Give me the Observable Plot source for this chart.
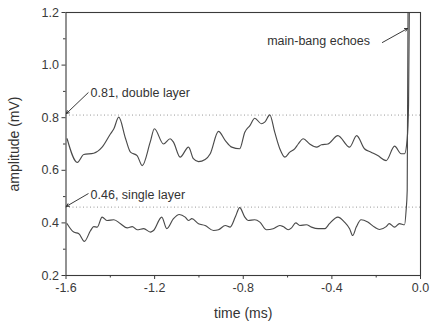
<!DOCTYPE html>
<html>
<head>
<meta charset="utf-8">
<script src="https://cdn.jsdelivr.net/npm/d3@7"></script>
<script src="https://cdn.jsdelivr.net/npm/@observablehq/plot@0.6"></script>
<style>
  html, body { margin: 0; padding: 0; background: #fff; }
  #chart svg { font-family: "Liberation Sans", Arial, sans-serif; }
</style>
</head>
<body>
<div id="chart"></div>
<script>
// Double-layer trace (time in ms, amplitude in mV)
const upperTime = [-1.595,-1.549,-1.520,-1.475,-1.437,-1.399,-1.384,-1.362,-1.331,-1.309,-1.279,-1.256,-1.220,-1.201,-1.160,-1.130,-1.115,-1.085,-1.047,-1.025,-1.002,-0.972,-0.949,-0.912,-0.881,-0.852,-0.816,-0.793,-0.770,-0.748,-0.718,-0.703,-0.680,-0.658,-0.635,-0.612,-0.590,-0.567,-0.552,-0.529,-0.500,-0.469,-0.447,-0.418,-0.373,-0.320,-0.288,-0.253,-0.223,-0.193,-0.155,-0.117,-0.087,-0.072,-0.060,-0.054,-0.050];
const upperAmp = [0.72,0.63,0.66,0.665,0.688,0.739,0.758,0.802,0.72,0.669,0.656,0.618,0.707,0.758,0.70,0.72,0.707,0.65,0.688,0.644,0.633,0.641,0.663,0.748,0.713,0.688,0.682,0.745,0.770,0.798,0.777,0.783,0.811,0.745,0.682,0.650,0.669,0.682,0.70,0.72,0.70,0.688,0.697,0.70,0.732,0.688,0.732,0.682,0.669,0.656,0.637,0.692,0.663,0.663,0.72,0.846,1.25];

// Single-layer trace
const lowerTime = [-1.595,-1.565,-1.542,-1.517,-1.489,-1.475,-1.459,-1.437,-1.414,-1.384,-1.354,-1.324,-1.301,-1.279,-1.249,-1.219,-1.205,-1.168,-1.145,-1.115,-1.089,-1.062,-1.047,-1.032,-1.002,-0.972,-0.934,-0.912,-0.881,-0.859,-0.836,-0.816,-0.793,-0.778,-0.748,-0.725,-0.695,-0.665,-0.635,-0.620,-0.597,-0.582,-0.563,-0.545,-0.515,-0.492,-0.462,-0.432,-0.411,-0.373,-0.343,-0.320,-0.306,-0.290,-0.268,-0.238,-0.208,-0.185,-0.155,-0.141,-0.117,-0.095,-0.072,-0.065,-0.060,-0.056];
const lowerAmp = [0.397,0.365,0.359,0.330,0.371,0.386,0.384,0.422,0.409,0.412,0.397,0.381,0.386,0.374,0.378,0.365,0.371,0.422,0.378,0.416,0.432,0.422,0.409,0.416,0.397,0.390,0.371,0.374,0.390,0.384,0.422,0.458,0.422,0.409,0.412,0.403,0.374,0.378,0.390,0.386,0.374,0.381,0.400,0.390,0.393,0.384,0.378,0.378,0.397,0.422,0.403,0.378,0.352,0.384,0.412,0.403,0.384,0.375,0.386,0.397,0.384,0.397,0.393,0.447,0.523,1.25];

// Reference levels and annotations
const levelValues = [0.81, 0.46];
const levelLabels = ["0.81, double layer", "0.46, single layer"];
const labelTime = [-1.489, -1.489];
const labelAmp = [0.893, 0.505];
const arrowFromTime = [-1.500, -1.500];
const arrowFromAmp = [0.895, 0.511];
const arrowToTime = [-1.598, -1.598];
const arrowToAmp = [0.816, 0.463];

const echoLabel = ["main-bang echoes"];
const echoLabelTime = [-0.460];
const echoLabelAmp = [1.090];
const echoArrowFrom = [[-0.172, 1.086]];
const echoArrowTo = [[-0.059, 1.139]];

const xTicks = [-1.6, -1.2, -0.8, -0.4, 0.0];
const xMinorTicks = [-1.4, -1.0, -0.6, -0.2];
const yTicks = [0.2, 0.4, 0.6, 0.8, 1.0, 1.2];
const yMinorTicks = [0.3, 0.5, 0.7, 0.9, 1.1];
const xLabel = ["time (ms)"];
const yLabel = ["amplitude (mV)"];

const upper = upperTime.map((t, i) => ({t, a: upperAmp[i]}));
const lower = lowerTime.map((t, i) => ({t, a: lowerAmp[i]}));
const levels = levelValues.map((v, i) => ({v, label: levelLabels[i], lt: labelTime[i], la: labelAmp[i],
  x1: arrowFromTime[i], y1: arrowFromAmp[i], x2: arrowToTime[i], y2: arrowToAmp[i]}));
const echo = echoLabel.map((s, i) => ({s, t: echoLabelTime[i], a: echoLabelAmp[i],
  x1: echoArrowFrom[i][0], y1: echoArrowFrom[i][1], x2: echoArrowTo[i][0], y2: echoArrowTo[i][1]}));

const ink = "#3a3a3a";
const chart = Plot.plot({
  width: 430,
  height: 324,
  marginLeft: 65.5,
  marginRight: 10,
  marginTop: 12,
  marginBottom: 49,
  style: {fontFamily: "'Liberation Sans', Arial, sans-serif", fontSize: "12.5px", color: ink, background: "#fff"},
  x: {type: "linear", domain: [-1.6, 0], label: null},
  y: {type: "linear", domain: [0.2, 1.2], label: null},
  marks: [
    Plot.ruleY(levels, {y: "v", stroke: "#999", strokeWidth: 1, strokeDasharray: "1,2.5"}),
    Plot.line(upper, {x: "t", y: "a", stroke: "#4a4a4a", strokeWidth: 1.15, curve: "monotone-x", clip: true}),
    Plot.line(lower, {x: "t", y: "a", stroke: "#4a4a4a", strokeWidth: 1.15, curve: "monotone-x", clip: true}),
    Plot.frame({stroke: ink, strokeWidth: 1.1}),
    Plot.axisX({ticks: xTicks, tickFormat: d => d.toFixed(1), tickSize: 4, tickPadding: 4, fontSize: 12.5, label: null}),
    Plot.axisX({ticks: xMinorTicks, tickFormat: () => "", tickSize: 2.5, label: null}),
    Plot.axisY({ticks: yTicks, tickFormat: d => d.toFixed(1), tickSize: 4, tickPadding: 3, fontSize: 12.5, label: null}),
    Plot.axisY({ticks: yMinorTicks, tickFormat: () => "", tickSize: 2.5, label: null}),
    Plot.text(xLabel, {text: d => d, frameAnchor: "bottom", lineAnchor: "middle", dy: 38, fontSize: 14, fill: "#333"}),
    Plot.text(yLabel, {text: d => d, frameAnchor: "left", textAnchor: "middle", lineAnchor: "middle", rotate: -90, dx: -51, fontSize: 14, fill: "#333"}),
    Plot.arrow(levels, {x1: "x1", y1: "y1", x2: "x2", y2: "y2", stroke: "#222", strokeWidth: 0.9, headLength: 5, bend: 0}),
    Plot.text(levels, {x: "lt", y: "la", text: "label", textAnchor: "start", fill: "#333", fontSize: 12.5}),
    Plot.arrow(echo, {x1: "x1", y1: "y1", x2: "x2", y2: "y2", stroke: "#222", strokeWidth: 0.9, headLength: 5}),
    Plot.text(echo, {x: "t", y: "a", text: "s", textAnchor: "middle", fill: "#333", fontSize: 12.5})
  ]
});
document.getElementById("chart").appendChild(chart);
</script>
</body>
</html>
